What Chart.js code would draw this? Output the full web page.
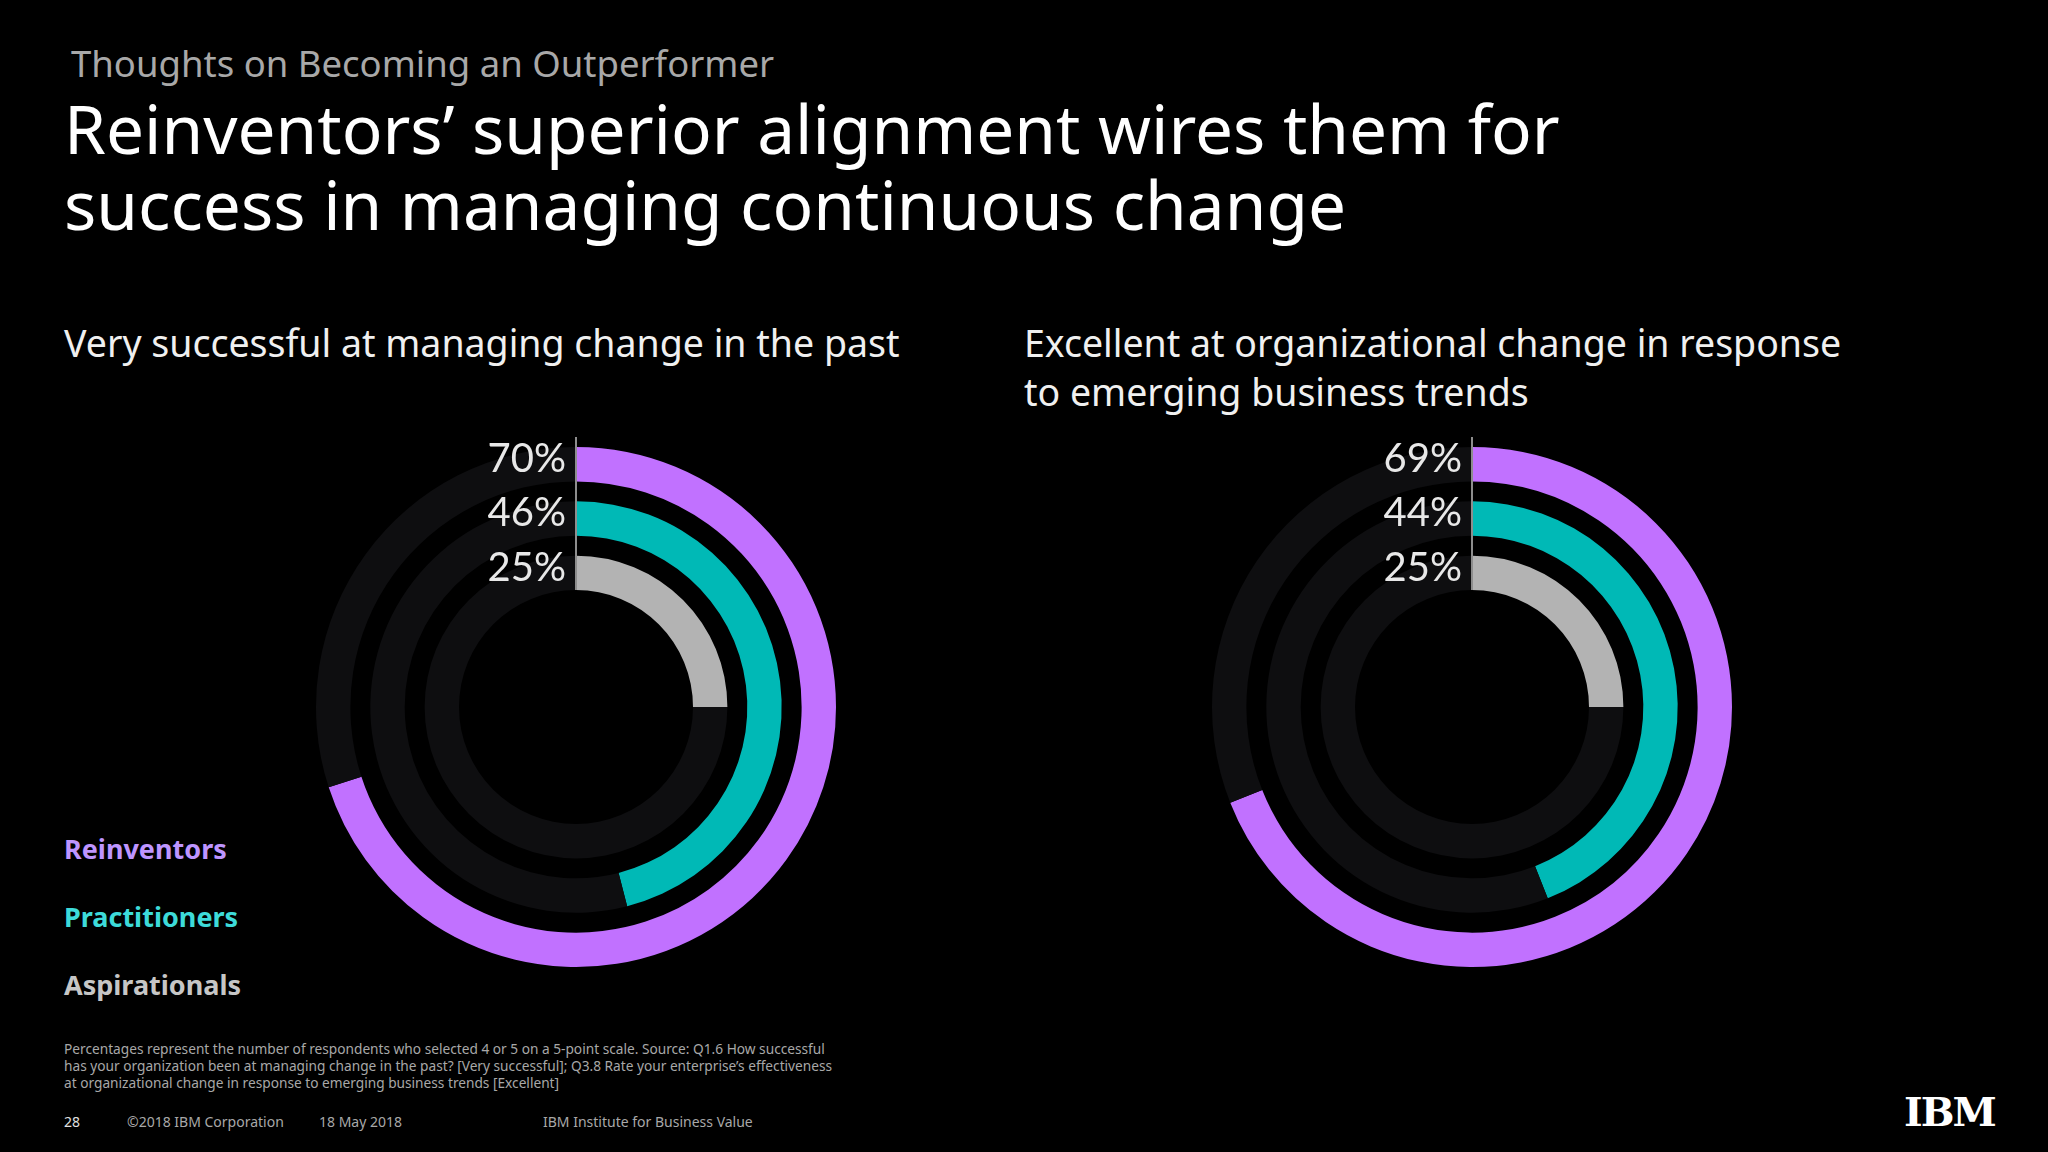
<!DOCTYPE html>
<html>
<head>
<meta charset="utf-8">
<script src="https://cdn.jsdelivr.net/npm/chart.js@4.4.1/dist/chart.umd.min.js"></script>
<style>
  body { margin:0; width:2048px; height:1152px; background:#000; overflow:hidden; font-family:"Noto Sans", sans-serif; position:relative; }
  .t { position:absolute; white-space:nowrap; }
  .box { position:absolute; width:540px; height:540px; top:437px; }
</style>
</head>
<body>
<div class="t" style="left:71px;top:38px;font-size:36.5px;color:#a8a8a8;">Thoughts on Becoming an Outperformer</div>
<div class="t" style="left:64px;top:90px;font-size:67.5px;line-height:76px;color:#fff;">Reinventors’ superior alignment wires them for<br>success in managing continuous change</div>
<div class="t" style="left:64px;top:318px;font-size:37.5px;line-height:49px;color:#f0f0f0;">Very successful at managing change in the past</div>
<div class="t" style="left:1024px;top:318px;font-size:37.5px;line-height:49px;color:#f0f0f0;">Excellent at organizational change in response<br>to emerging business trends</div>

<div class="t" style="left:64px;top:830px;font-size:27px;font-weight:bold;color:#be95ff;">Reinventors</div>
<div class="t" style="left:64px;top:898px;font-size:27px;font-weight:bold;color:#3ddbd9;">Practitioners</div>
<div class="t" style="left:64px;top:966px;font-size:27px;font-weight:bold;color:#c6c6c6;">Aspirationals</div>

<div class="t" style="left:64px;top:1040px;font-size:13.7px;line-height:17px;color:#a8a8a8;">Percentages represent the number of respondents who selected 4 or 5 on a 5-point scale. Source: Q1.6 How successful<br>has your organization been at managing change in the past? [Very successful]; Q3.8 Rate your enterprise’s effectiveness<br>at organizational change in response to emerging business trends [Excellent]</div>
<div class="t" style="left:64px;top:1112px;font-size:14px;color:#e0e0e0;">28</div>
<div class="t" style="left:127px;top:1112px;font-size:14px;color:#a8a8a8;">©2018 IBM Corporation</div>
<div class="t" style="left:319px;top:1112px;font-size:14px;color:#a8a8a8;">18 May 2018</div>
<div class="t" style="left:543px;top:1112px;font-size:14px;color:#a8a8a8;">IBM Institute for Business Value</div>
<div class="t" style="left:1904px;top:1088px;font-size:40px;font-weight:900;color:#fff;font-family:'DejaVu Serif',serif;letter-spacing:-2px;">IBM</div>

<div class="box" style="left:306px;"><canvas id="c1"></canvas></div>
<div class="box" style="left:1202px;"><canvas id="c2"></canvas></div>

<script>
const groups = ["Reinventors", "Practitioners", "Aspirationals"];
const pastValues = [70, 46, 25];
const trendValues = [69, 44, 25];
const ringColors = ["#c171ff", "#00b9b6", "#b3b3b3"];
const trackColor = "#0e0e10";

// rings plus invisible spacers between them
function buildDatasets(values) {
  const sets = [];
  values.forEach((v, i) => {
    if (i > 0) sets.push({ label: "gap", data: [100], backgroundColor: ["rgba(0,0,0,0)"], weight: 0.58, borderWidth: 0 });
    sets.push({ label: groups[i], data: [v, 100 - v], backgroundColor: [ringColors[i], trackColor], weight: 1, borderWidth: 0 });
  });
  return sets;
}

const labelPlugin = {
  id: "ringLabels",
  afterDatasetsDraw(chart) {
    const ctx = chart.ctx;
    const rings = [];
    chart.data.datasets.forEach((ds, i) => {
      if (ds.label === "gap") return;
      const arc = chart.getDatasetMeta(i).data[0];
      rings.push({ arc, v: ds.data[0] });
    });
    const cx = rings[0].arc.x, cy = rings[0].arc.y;
    ctx.save();
    ctx.strokeStyle = "#8d8d8d";
    ctx.lineWidth = 2;
    ctx.beginPath();
    ctx.moveTo(cx, Math.max(0, cy - rings[0].arc.outerRadius - 24));
    ctx.lineTo(cx, cy - rings[rings.length - 1].arc.innerRadius);
    ctx.stroke();
    ctx.fillStyle = "#e8e8e8";
    ctx.font = "400 40px Lato";
    ctx.textAlign = "right";
    ctx.textBaseline = "middle";
    rings.forEach(r => {
      const y = cy - (r.arc.outerRadius + r.arc.innerRadius) / 2 - 5;
      ctx.fillText(r.v + "%", cx - 10, y);
    });
    ctx.restore();
  }
};

function makeChart(id, values) {
  new Chart(document.getElementById(id), {
    type: "doughnut",
    data: { labels: ["value", "rest"], datasets: buildDatasets(values) },
    options: {
      cutout: "45%",
      responsive: true,
      maintainAspectRatio: false,
      animation: false,
      layout: { padding: 10 },
      plugins: { legend: { display: false }, tooltip: { enabled: false } }
    },
    plugins: [labelPlugin]
  });
}

makeChart("c1", pastValues);
makeChart("c2", trendValues);
</script>
</body>
</html>
